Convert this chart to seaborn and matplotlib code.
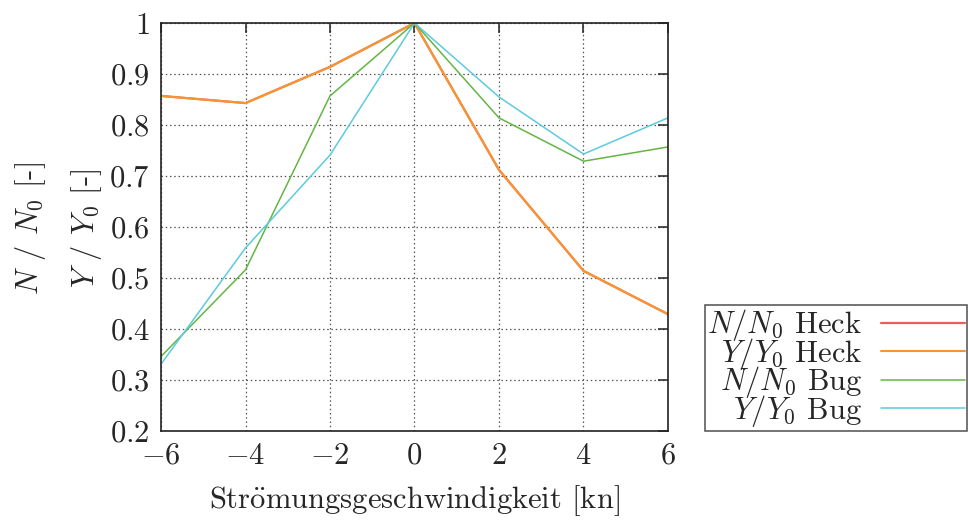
import matplotlib
matplotlib.use("Agg")
import matplotlib.pyplot as plt
import seaborn as sns
import pandas as pd

sns.set_theme(style="white")
plt.rcParams["font.family"] = ["cmr10"]
plt.rcParams["mathtext.fontset"] = "cm"
plt.rcParams["axes.formatter.use_mathtext"] = True
plt.rcParams["axes.unicode_minus"] = True

# data
speed = [-6, -4, -2, 0, 2, 4, 6]
n_heck = [0.857, 0.843, 0.914, 1.0, 0.712, 0.514, 0.429]
y_heck = [0.857, 0.843, 0.914, 1.0, 0.712, 0.514, 0.429]
n_bug = [0.346, 0.516, 0.857, 1.0, 0.814, 0.729, 0.757]
y_bug = [0.331, 0.559, 0.741, 1.0, 0.855, 0.743, 0.814]
series_labels = [r"$N/N_0$ Heck", r"$Y/Y_0$ Heck", r"$N/N_0$ Bug", r"$Y/Y_0$ Bug"]
colors = ["#e8605e", "#f7962e", "#62b644", "#5ccbdc"]
xticks = [-6, -4, -2, 0, 2, 4, 6]
yticks = [0.2, 0.3, 0.4, 0.5, 0.6, 0.7, 0.8, 0.9, 1.0]
ytick_labels = ["0.2", "0.3", "0.4", "0.5", "0.6", "0.7", "0.8", "0.9", "1"]

rows = []
for lab, vals in zip(series_labels, [n_heck, y_heck, n_bug, y_bug]):
    for s, v in zip(speed, vals):
        rows.append({"speed": s, "value": v, "series": lab})
df = pd.DataFrame(rows)

W, H = 968, 523
fig = plt.figure(figsize=(W / 100, H / 100), dpi=100)
ax = fig.add_axes([161 / W, 1 - 431 / H, (668 - 161) / W, (431 - 23) / H])

widths = [1.6, 1.5, 1.1, 1.1]
for lab, c, lw in zip(series_labels, colors, widths):
    sns.lineplot(data=df[df["series"] == lab], x="speed", y="value", color=c,
                 lw=lw, ax=ax, legend=False, errorbar=None, label=None)

ax.set_xlim(-6, 6)
ax.set_ylim(0.2, 1.0)
ax.set_xticks(xticks)
ax.set_xticklabels([r"$%d$" % t if t >= 0 else r"$-%d$" % (-t) for t in xticks])
ax.set_yticks(yticks)
ax.set_yticklabels([r"$%s$" % t for t in ytick_labels])
ax.tick_params(axis="both", which="both", direction="in", length=7, width=1.1,
               top=True, right=True, labelsize=22, color="#222222", pad=8)
ax.grid(True, color="#555555", linestyle=(0, (1.2, 2.2)), linewidth=0.9)
for sp in ax.spines.values():
    sp.set_visible(True)
    sp.set_color("#222222")
    sp.set_linewidth(1.2)
ax.set_xlabel(r"Str$\ddot{\mathrm{o}}$mungsgeschwindigkeit [kn]", fontsize=22, labelpad=10)
ax.set_ylabel("")

fig.text(30 / W, 1 - 228 / H, r"$N$ / $N_0$ [-]", rotation=90, fontsize=22,
         ha="center", va="center")
fig.text(86 / W, 1 - 228 / H, r"$Y$ / $Y_0$ [-]", rotation=90, fontsize=22,
         ha="center", va="center")

handles = ax.get_lines()[:4]
leg = fig.legend(handles, series_labels, loc="lower left",
                 bbox_to_anchor=(705 / W, 92 / H), fontsize=22, markerfirst=False,
                 frameon=True, fancybox=False, edgecolor="#222222",
                 borderpad=0.08, labelspacing=-0.25, handlelength=2.75,
                 handletextpad=0.6, borderaxespad=0.0)
leg.get_frame().set_linewidth(1.1)

fig.savefig("out.png", dpi=100)
